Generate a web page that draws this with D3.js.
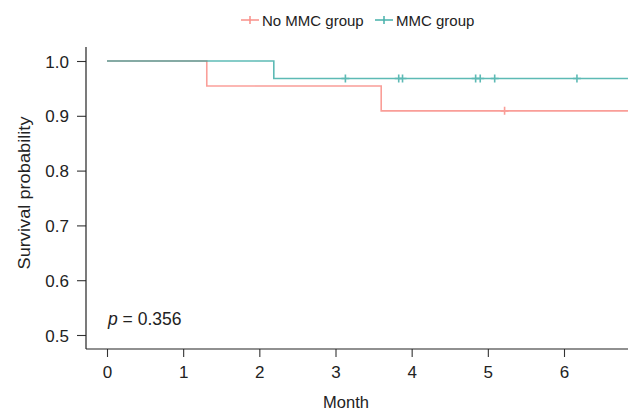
<!DOCTYPE html>
<html>
<head>
<meta charset="utf-8">
<script src="https://cdn.jsdelivr.net/npm/d3@7"></script>
<style>
  body { margin: 0; background: #fff; }
  text { font-family: "Liberation Sans", Arial, sans-serif; fill: #222; }
</style>
</head>
<body>
<svg width="628" height="412"></svg>
<script>
// Kaplan-Meier steps
var groups = ["No MMC group", "MMC group"];
var colors = ["#F8766D", "#1a9e97"];

var noMmcTimes = [0, 1.31, 3.60];
var noMmcSurv = [1.0, 0.9545, 0.909];
var noMmcCensor = [5.22];

var mmcTimes = [0, 2.19];
var mmcSurv = [1.0, 0.968];
var mmcCensor = [3.13, 3.83, 3.88, 4.84, 4.90, 5.09, 6.17];

var xTicks = [0, 1, 2, 3, 4, 5, 6];
var yTicks = [0.5, 0.6, 0.7, 0.8, 0.9, 1.0];
var maxTime = 6.84;
var pText = "0.356";

var svg = d3.select("svg");

var x = d3.scaleLinear().domain([0, 6]).range([107, 564]);
var y = d3.scaleLinear().domain([0.5, 1.0]).range([335, 61]);

// axes
var xAxis = svg.append("g")
   .attr("transform", "translate(0,349)")
   .call(d3.axisBottom(x).tickValues(xTicks).tickFormat(d3.format("d")).tickSize(8).tickPadding(5).tickSizeOuter(0));
xAxis.select(".domain").remove();
svg.append("line").attr("x1", 86).attr("x2", 628).attr("y1", 349).attr("y2", 349)
   .attr("stroke", "#222").attr("stroke-width", 1.2);

var yAxis = svg.append("g")
   .attr("transform", "translate(86,0)")
   .call(d3.axisLeft(y).tickValues(yTicks).tickFormat(d3.format(".1f")).tickSize(9).tickPadding(8).tickSizeOuter(0));
yAxis.select(".domain").remove();
svg.append("line").attr("x1", 86).attr("x2", 86).attr("y1", 47).attr("y2", 349)
   .attr("stroke", "#222").attr("stroke-width", 1.2);

svg.selectAll(".tick line").attr("stroke", "#333").attr("stroke-width", 1.1);
xAxis.selectAll(".tick text").attr("font-size", 17).attr("dy", "0.92em");
yAxis.selectAll(".tick text").attr("font-size", 17).attr("dy", "0.36em");
svg.selectAll(".tick text").style("fill", "#222").style("font-family", "'Liberation Sans', Arial, sans-serif");

// axis titles
svg.append("text").attr("x", 346).attr("y", 408).attr("text-anchor", "middle")
   .attr("font-size", 16.5).text("Month");
svg.append("text").attr("transform", "translate(30,193) rotate(-90)")
   .attr("text-anchor", "middle").attr("font-size", 16.5)
   .attr("textLength", 153).attr("lengthAdjust", "spacingAndGlyphs")
   .text("Survival probability");

// step curves
function stepPoints(times, surv) {
   var pts = [];
   for (var i = 0; i < times.length; i++) {
      if (i > 0) pts.push([times[i], surv[i - 1]]);
      pts.push([times[i], surv[i]]);
   }
   pts.push([maxTime, surv[surv.length - 1]]);
   return pts;
}
function survAt(times, surv, t) {
   var s = surv[0];
   for (var i = 0; i < times.length; i++) if (times[i] <= t) s = surv[i];
   return s;
}

var line = d3.line().x(function(d) { return x(d[0]); }).y(function(d) { return y(d[1]); });

var series = [
   { times: noMmcTimes, surv: noMmcSurv, censor: noMmcCensor, color: colors[0] },
   { times: mmcTimes, surv: mmcSurv, censor: mmcCensor, color: colors[1] }
];

series.forEach(function(s) {
   var g = svg.append("g").attr("opacity", 0.7);
   g.append("path").datum(stepPoints(s.times, s.surv))
      .attr("d", line).attr("fill", "none")
      .attr("stroke", s.color).attr("stroke-width", 1.6);
   g.selectAll("path.cens").data(s.censor).enter().append("path")
      .attr("class", "cens")
      .attr("d", function(t) {
         var cx = x(t), cy = y(survAt(s.times, s.surv, t));
         return "M" + (cx - 4) + "," + cy + "H" + (cx + 4) + "M" + cx + "," + (cy - 4) + "V" + (cy + 4);
      })
      .attr("stroke", s.color).attr("stroke-width", 1.6);
});

// p value
var pt = svg.append("text").attr("x", 108).attr("y", 325).attr("font-size", 17.5);
pt.append("tspan").attr("font-style", "italic").text("p");
pt.append("tspan").text(" = " + pText);

// legend
var legX = [250, 384];
groups.forEach(function(name, i) {
   var lg = svg.append("g").attr("transform", "translate(" + legX[i] + ",20)");
   lg.append("path").attr("d", "M-9,0H9M0,-4V4")
      .attr("stroke", colors[i]).attr("stroke-width", 1.5).attr("opacity", 0.8);
   lg.append("text").attr("x", 12).attr("y", 5.5).attr("font-size", 15).text(name);
});
</script>
</body>
</html>
